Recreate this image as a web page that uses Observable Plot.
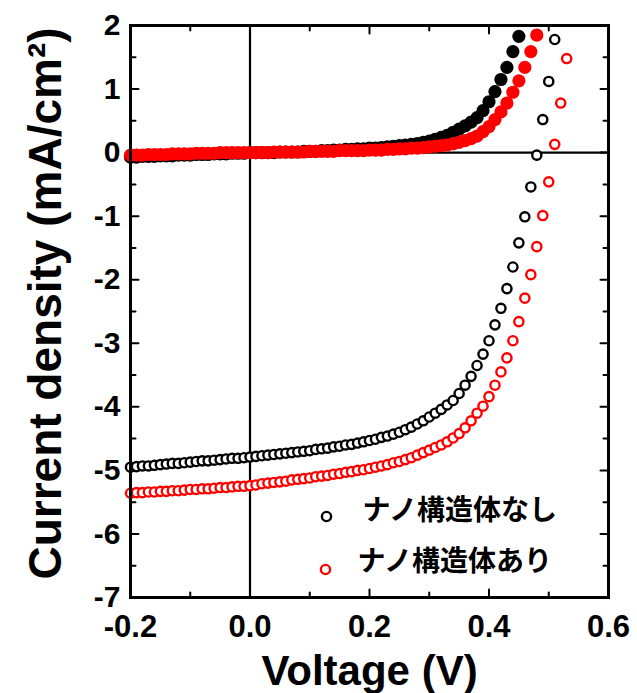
<!DOCTYPE html>
<html>
<head>
<meta charset="utf-8">
<script src="https://cdn.jsdelivr.net/npm/d3@7"></script>
<script src="https://cdn.jsdelivr.net/npm/@observablehq/plot@0.6"></script>
<style>
  html, body { margin: 0; padding: 0; background: white; }
</style>
</head>
<body>
<div id="chart"></div>
<script>
// Voltage grid (V)
const voltage = [
  -0.20,-0.19,-0.18,-0.17,-0.16,-0.15,-0.14,-0.13,-0.12,-0.11,
  -0.10,-0.09,-0.08,-0.07,-0.06,-0.05,-0.04,-0.03,-0.02,-0.01,
   0.00, 0.01, 0.02, 0.03, 0.04, 0.05, 0.06, 0.07, 0.08, 0.09,
   0.10, 0.11, 0.12, 0.13, 0.14, 0.15, 0.16, 0.17, 0.18, 0.19,
   0.20, 0.21, 0.22, 0.23, 0.24, 0.25, 0.26, 0.27, 0.28, 0.29,
   0.30, 0.31, 0.32, 0.33, 0.34, 0.35, 0.36, 0.37, 0.38, 0.39,
   0.40, 0.41, 0.42, 0.43, 0.44, 0.45, 0.46, 0.47, 0.48, 0.49,
   0.50, 0.51, 0.52, 0.53
];

// Dark current, without nanostructure (filled black)
const darkNone = [
  -0.07,-0.07,-0.06,-0.06,-0.06,-0.05,-0.05,-0.05,-0.04,-0.04,
  -0.04,-0.03,-0.03,-0.03,-0.02,-0.02,-0.02,-0.01,-0.01,-0.01,
   0.00, 0.00, 0.00, 0.00, 0.00, 0.01, 0.01, 0.01, 0.01, 0.02,
   0.02, 0.02, 0.03, 0.03, 0.04, 0.04, 0.05, 0.05, 0.06, 0.06,
   0.07, 0.07, 0.08, 0.09, 0.10, 0.11, 0.12, 0.13, 0.14, 0.16,
   0.18, 0.21, 0.24, 0.27, 0.32, 0.37, 0.42, 0.48, 0.55, 0.66,
   0.80, 0.96, 1.15, 1.34, 1.59, 1.83
];

// Dark current, with nanostructure (filled red)
const darkWith = [
  -0.04,-0.04,-0.04,-0.03,-0.03,-0.03,-0.03,-0.02,-0.02,-0.02,
  -0.02,-0.01,-0.01,-0.01,-0.01, 0.00, 0.00, 0.00, 0.00, 0.00,
   0.00, 0.00, 0.00, 0.00, 0.01, 0.01, 0.01, 0.01, 0.01, 0.01,
   0.02, 0.02, 0.02, 0.02, 0.02, 0.03, 0.03, 0.03, 0.03, 0.03,
   0.04, 0.04, 0.04, 0.05, 0.05, 0.06, 0.06, 0.07, 0.07, 0.08,
   0.09, 0.10, 0.11, 0.12, 0.14, 0.16, 0.19, 0.22, 0.26, 0.33,
   0.41, 0.52, 0.64, 0.78, 0.95, 1.13, 1.34, 1.59, 1.85
];

// Light current, without nanostructure (open black)
const lightNone = [
  -4.95,-4.94,-4.93,-4.93,-4.92,-4.91,-4.90,-4.89,-4.89,-4.88,
  -4.87,-4.86,-4.85,-4.85,-4.84,-4.83,-4.82,-4.81,-4.81,-4.80,
  -4.79,-4.78,-4.77,-4.76,-4.75,-4.74,-4.73,-4.72,-4.71,-4.70,
  -4.69,-4.67,-4.66,-4.65,-4.63,-4.62,-4.60,-4.59,-4.57,-4.55,
  -4.53,-4.51,-4.48,-4.46,-4.43,-4.40,-4.36,-4.32,-4.27,-4.22,
  -4.16,-4.10,-4.04,-3.97,-3.90,-3.79,-3.66,-3.52,-3.35,-3.17,
  -2.96,-2.71,-2.45,-2.14,-1.80,-1.42,-1.01,-0.54,-0.04, 0.52,
   1.12, 1.78
];

// Light current, with nanostructure (open red)
const lightWith = [
  -5.36,-5.35,-5.35,-5.34,-5.34,-5.33,-5.33,-5.32,-5.32,-5.31,
  -5.30,-5.30,-5.29,-5.29,-5.28,-5.27,-5.27,-5.26,-5.25,-5.25,
  -5.24,-5.23,-5.21,-5.20,-5.19,-5.18,-5.17,-5.15,-5.14,-5.13,
  -5.12,-5.10,-5.09,-5.08,-5.06,-5.05,-5.03,-5.02,-5.00,-4.99,
  -4.97,-4.95,-4.93,-4.91,-4.88,-4.86,-4.83,-4.80,-4.76,-4.72,
  -4.68,-4.64,-4.60,-4.55,-4.49,-4.42,-4.33,-4.22,-4.10,-3.99,
  -3.84,-3.66,-3.45,-3.23,-2.96,-2.66,-2.29,-1.92,-1.48,-0.99,
  -0.46, 0.13, 0.78, 1.48
];

const legendLabels = ["ナノ構造体なし", "ナノ構造体あり"];
const xLabel = "Voltage (V)";
const yLabel = "Current density (mA/cm²)";
const xMajor = [-0.2, 0, 0.2, 0.4, 0.6];
const xMinor = [-0.1, 0.1, 0.3, 0.5];
const yMajor = [-7, -6, -5, -4, -3, -2, -1, 0, 1, 2];
const yMinor = [-6.5, -5.5, -4.5, -3.5, -2.5, -1.5, -0.5, 0.5, 1.5];

const toRows = arr => arr.map((j, i) => ({v: voltage[i], j}));
const darkNoneRows = toRows(darkNone);
const darkWithRows = toRows(darkWith);
const lightNoneRows = toRows(lightNone);
const lightWithRows = toRows(lightWith);

const tickLine = {draw(ctx, l) { ctx.moveTo(0, 0); ctx.lineTo(0, -l); }};
const tickOpts = {stroke: "black", strokeWidth: 2, shape: tickLine, anchor: "start"};
const sans = "Liberation Sans, Arial, sans-serif";
const cjk = "Noto Sans CJK JP, sans-serif";

const chart = Plot.plot({
  width: 637,
  height: 693,
  marginLeft: 130,
  marginRight: 29,
  marginTop: 25,
  marginBottom: 96,
  style: {fontFamily: sans, background: "white", overflow: "visible"},
  x: {domain: [-0.2, 0.6], axis: null},
  y: {domain: [-7, 2], axis: null},
  marks: [
    Plot.ruleY([0], {stroke: "black", strokeWidth: 2.2}),
    Plot.ruleX([0], {stroke: "black", strokeWidth: 2.2}),
    // inward ticks
    Plot.vector(xMajor, {x: d => d, frameAnchor: "bottom", rotate: 0, length: 8, ...tickOpts}),
    Plot.vector(xMinor, {x: d => d, frameAnchor: "bottom", rotate: 0, length: 5, ...tickOpts}),
    Plot.vector(xMajor, {x: d => d, frameAnchor: "top", rotate: 180, length: 8, ...tickOpts}),
    Plot.vector(xMinor, {x: d => d, frameAnchor: "top", rotate: 180, length: 5, ...tickOpts}),
    Plot.vector(yMajor, {y: d => d, frameAnchor: "left", rotate: 90, length: 8, ...tickOpts}),
    Plot.vector(yMinor, {y: d => d, frameAnchor: "left", rotate: 90, length: 5, ...tickOpts}),
    Plot.vector(yMajor, {y: d => d, frameAnchor: "right", rotate: -90, length: 8, ...tickOpts}),
    Plot.vector(yMinor, {y: d => d, frameAnchor: "right", rotate: -90, length: 5, ...tickOpts}),
    // tick labels
    Plot.axisX({anchor: "bottom", ticks: xMajor, tickSize: 0, tickPadding: 17, tickFormat: d => d.toFixed(1),
      fontSize: 31, fontWeight: "bold", fontFamily: sans, fill: "black", label: null}),
    Plot.axisY({anchor: "left", ticks: yMajor, tickSize: 0, tickPadding: 10, tickFormat: d => String(d),
      fontSize: 30, fontWeight: "bold", fontFamily: sans, fill: "black", label: null}),
    // data
    Plot.dot(darkNoneRows, {x: "v", y: "j", r: 6.6, fill: "black"}),
    Plot.dot(darkWithRows, {x: "v", y: "j", r: 6.6, fill: "#ff0000"}),
    Plot.dot(lightNoneRows, {x: "v", y: "j", r: 4.6, fill: "white", stroke: "black", strokeWidth: 2.4}),
    Plot.dot(lightWithRows, {x: "v", y: "j", r: 4.6, fill: "white", stroke: "#ff0000", strokeWidth: 2.4}),
    // legend
    Plot.dot([legendLabels[0]], {frameAnchor: "top-left", dx: 196, dy: 491, r: 4.6, fill: "white", stroke: "black", strokeWidth: 2.4}),
    Plot.dot([legendLabels[1]], {frameAnchor: "top-left", dx: 195, dy: 544, r: 4.6, fill: "white", stroke: "#ff0000", strokeWidth: 2.4}),
    Plot.text([legendLabels[0]], {text: d => d, frameAnchor: "top-left", dx: 232, dy: 486, textAnchor: "start", lineAnchor: "middle",
      fontSize: 28, fontWeight: "bold", fontFamily: cjk, fill: "black"}),
    Plot.text([legendLabels[1]], {text: d => d, frameAnchor: "top-left", dx: 227, dy: 537, textAnchor: "start", lineAnchor: "middle",
      fontSize: 28, fontWeight: "bold", fontFamily: cjk, fill: "black"}),
    // axis titles
    Plot.text([xLabel], {text: d => d, frameAnchor: "bottom", dy: 87, textAnchor: "middle", lineAnchor: "bottom",
      fontSize: 42, fontWeight: "bold", fontFamily: sans, fill: "black"}),
    Plot.text([yLabel], {text: d => d, frameAnchor: "left", dx: -70, dy: -8, rotate: -90, textAnchor: "middle", lineAnchor: "bottom",
      fontSize: 46, fontWeight: "bold", fontFamily: sans, fill: "black"}),
    Plot.frame({stroke: "black", strokeWidth: 3})
  ]
});
document.getElementById("chart").appendChild(chart);
</script>
</body>
</html>
